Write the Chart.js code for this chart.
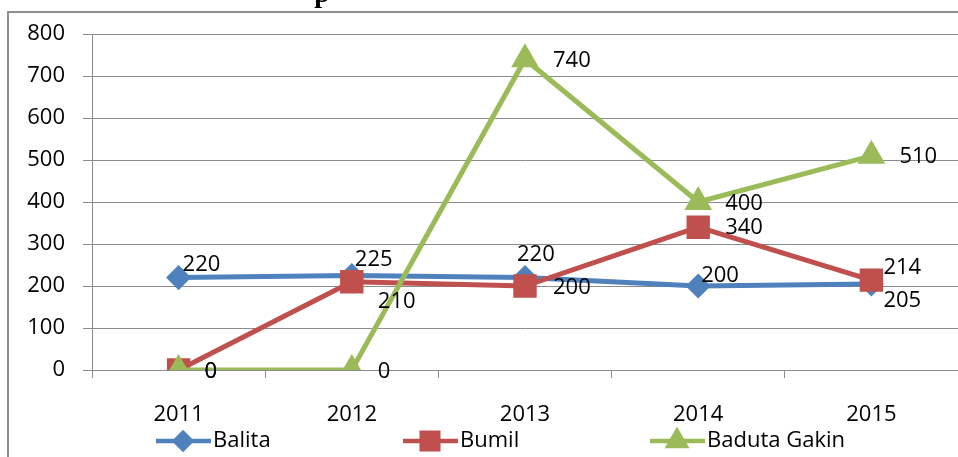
<!DOCTYPE html>
<html>
<head>
<meta charset="utf-8">
<script src="https://cdn.jsdelivr.net/npm/chart.js@4"></script>
<style>
 body{margin:0;background:#fff;}
 #wrap{position:relative;width:958px;height:457px;overflow:hidden;}
 #frame{position:absolute;left:7px;top:11px;width:960px;height:460px;border-left:2px solid #8e8e8e;border-top:2px solid #8e8e8e;}
 #myChart{position:absolute;left:0;top:0;}
</style>
</head>
<body>
<div id="wrap">
 <div id="frame"></div>
 <canvas id="myChart" width="976" height="457"></canvas>
</div>
<script>
const years=['2011','2012','2013','2014','2015'];
const balita=[220,225,220,200,205];
const bumil=[0,210,200,340,214];
const baduta=[0,0,740,400,510];
const yTicks=[0,100,200,300,400,500,600,700,800];

const FONT='"Open Sans", "Liberation Sans", sans-serif';

// label offsets from the point, per series (dx, dy)
const labelOffsets=[
 [[4,-13],[3,-16],[-8,-23],[3,-10],[12,17]],
 [[26,2],[26,20],[28,2],[27,1],[12,-12]],
 [[26,2],[26,2],[28,2],[27,2],[28,1]]
];

const labelPlugin={
 id:'pointLabels',
 afterDatasetsDraw(chart){
  const c=chart.ctx;
  c.save();
  c.font='22px '+FONT;
  c.fillStyle='#000';
  c.textAlign='left';
  c.textBaseline='middle';
  chart.data.datasets.forEach((ds,i)=>{
   chart.getDatasetMeta(i).data.forEach((pt,j)=>{
    const o=labelOffsets[i][j];
    c.fillText(String(ds.data[j]),pt.x+o[0],pt.y+o[1]);
   });
  });
  c.restore();
 }
};

const legendPlugin={
 id:'sideLegend',
 afterDraw(chart){
  const c=chart.ctx;
  c.save();
  // cut-off title at the top
  c.font='bold 28px "Liberation Serif", serif';
  c.fillStyle='#000';
  c.textAlign='center';
  c.textBaseline='alphabetic';
  c.fillText('p',322,2);

  chart.data.datasets.forEach((ds,i)=>{
   const x=156+i*247, y=441;
   c.strokeStyle=ds.borderColor;
   c.lineWidth=4.5;
   c.beginPath();c.moveTo(x,y);c.lineTo(x+55,y);c.stroke();
   c.fillStyle=ds.borderColor;
   Chart.helpers.drawPoint(c,{pointStyle:ds.pointStyle,radius:ds.pointRadius*0.9,borderWidth:1,rotation:0},x+27,y);
   c.fill();
   c.fillStyle='#000';
   c.font='22px '+FONT;
   c.textAlign='left';
   c.textBaseline='middle';
   c.fillText(ds.label,x+57,y);
  });
  c.restore();
 }
};

const ctx=document.getElementById('myChart');
if(ctx){
new Chart(ctx,{
 type:'line',
 data:{
  labels:years,
  datasets:[
   {label:'Balita',data:balita,borderColor:'#4f81bd',backgroundColor:'#4f81bd',pointBackgroundColor:'#4f81bd',pointBorderColor:'#4f81bd',pointStyle:'rectRot',pointRadius:9,borderWidth:5,order:3},
   {label:'Bumil',data:bumil,borderColor:'#c0504d',backgroundColor:'#c0504d',pointBackgroundColor:'#c0504d',pointBorderColor:'#c0504d',pointStyle:'rect',pointRadius:13,borderWidth:5,order:2},
   {label:'Baduta Gakin',data:baduta,borderColor:'#9bbb59',backgroundColor:'#9bbb59',pointBackgroundColor:'#9bbb59',pointBorderColor:'#9bbb59',pointStyle:'triangle',pointRadius:11,borderWidth:5,order:1}
  ]
 },
 options:{
  responsive:false,
  animation:false,
  devicePixelRatio:1,
  layout:{padding:{left:0,top:34,right:0,bottom:0}},
  plugins:{legend:{display:false},tooltip:{enabled:false},title:{display:false}},
  elements:{line:{tension:0},point:{borderWidth:1,hoverRadius:0}},
  scales:{
   x:{
    offset:true,
    grid:{offset:true,drawOnChartArea:false,drawTicks:true,tickLength:8,color:'#8c8c8c',lineWidth:1},
    border:{color:'#8c8c8c',width:1},
    ticks:{color:'#000',font:{family:FONT,size:22},padding:24,maxRotation:0},
    afterFit(s){s.height=87;}
   },
   y:{
    min:0,max:800,
    afterBuildTicks(s){s.ticks=yTicks.map(v=>({value:v}));},
    grid:{color:'#8c8c8c',lineWidth:1,tickLength:9},
    border:{color:'#8c8c8c',width:1},
    ticks:{color:'#000',font:{family:FONT,size:22},padding:18},
    afterFit(s){s.width=92;}
   }
  }
 },
 plugins:[labelPlugin,legendPlugin]
});
}
</script>
</body>
</html>
